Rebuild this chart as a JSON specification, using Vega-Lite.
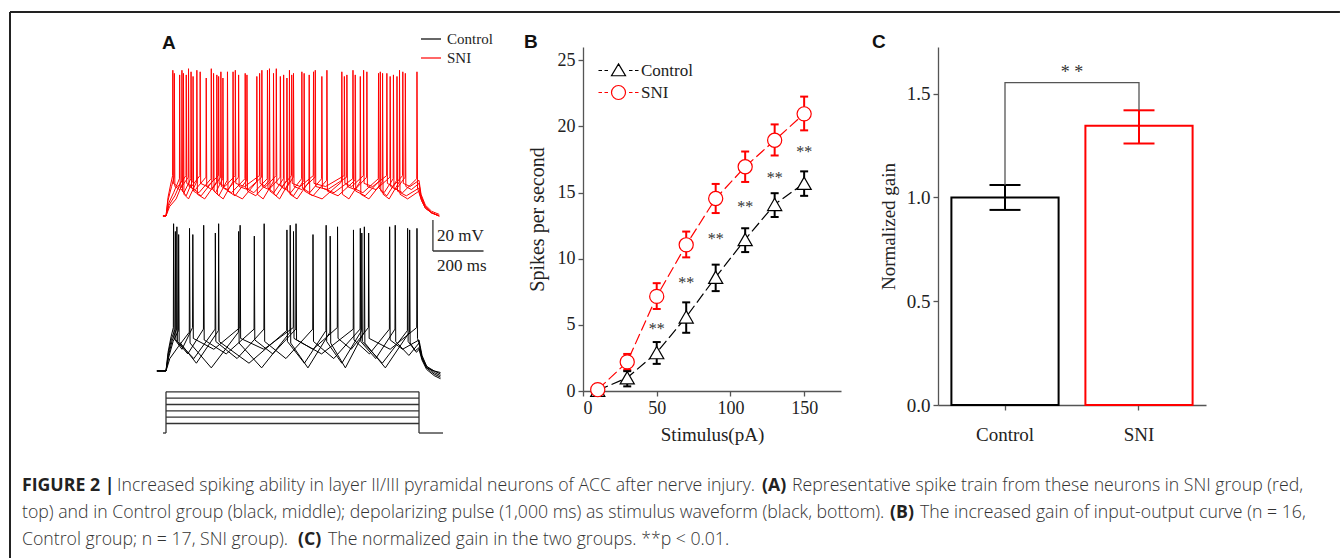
{
"$schema": "https://vega.github.io/schema/vega-lite/v6.json",
"padding": {"left": 9, "top": 10, "right": 0, "bottom": 0},
"background": "white",
"config": {
 "view": {"stroke": null},
 "font": "Liberation Serif",
 "axis": {"grid": false, "domainColor": "#555", "domainWidth": 1.3, "tickColor": "#555", "tickWidth": 1.3, "tickSize": 5, "labelFont": "Liberation Serif", "labelFontSize": 18, "labelColor": "#222", "labelPadding": 3, "titleFont": "Liberation Serif", "titleFontSize": 19, "titleFontWeight": "normal", "titleColor": "#222"},
 "title": {"font": "Liberation Sans", "fontSize": 19, "fontWeight": "bold", "anchor": "start", "frame": "group", "color": "#111", "offset": 2},
 "text": {"font": "Liberation Serif"}
},
"datasets": {
 "frame": [
  {"t0": -616.6, "t1": -616.6, "v0": 61.6, "v1": -290.7},
  {"t0": -616.6, "t1": 4640, "v0": 61.6, "v1": 61.6}
 ],
 "stim": [
  {"t0": -12, "t1": 0, "i0": 0, "i1": 0},
  {"t0": 1000, "t1": 1095, "i0": 0, "i1": 0},
  {"t0": 0, "t1": 0, "i0": 0, "i1": 130},
  {"t0": 1000, "t1": 1000, "i0": 0, "i1": 130},
  {"t0": 0, "t1": 1000, "i0": 30, "i1": 30},
  {"t0": 0, "t1": 1000, "i0": 50, "i1": 50},
  {"t0": 0, "t1": 1000, "i0": 70, "i1": 70},
  {"t0": 0, "t1": 1000, "i0": 90, "i1": 90},
  {"t0": 0, "t1": 1000, "i0": 110, "i1": 110},
  {"t0": 0, "t1": 1000, "i0": 130, "i1": 130}
 ],
 "sbar": [
  {"t0": 1055, "t1": 1055, "v0": 7.4, "v1": 27.4},
  {"t0": 1055, "t1": 1255, "v0": 7.4, "v1": 7.4}
 ],
 "slab": [
  {"t": 1071, "v": 17.1, "txt": "20 mV"},
  {"t": 1071, "v": -2.3, "txt": "200 ms"}
 ],
 "red": [
  {"s":"r1","t":-12,"v":-70},{"s":"r1","t":0,"v":-70},{"s":"r1","t":8,"v":-58},{"s":"r1","t":18,"v":-50},
  {"s":"r1","t":26,"v":-44},{"s":"r1","t":27,"v":24},{"s":"r1","t":29,"v":-49},{"s":"r1","t":47,"v":-51},
  {"s":"r1","t":79,"v":-44},{"s":"r1","t":80,"v":21},{"s":"r1","t":82,"v":-49},{"s":"r1","t":101,"v":-51},
  {"s":"r1","t":134,"v":-44},{"s":"r1","t":135,"v":23},{"s":"r1","t":137,"v":-49},{"s":"r1","t":163,"v":-51},
  {"s":"r1","t":207,"v":-44},{"s":"r1","t":208,"v":20},{"s":"r1","t":210,"v":-49},{"s":"r1","t":233,"v":-51},
  {"s":"r1","t":273,"v":-44},{"s":"r1","t":274,"v":24},{"s":"r1","t":276,"v":-49},{"s":"r1","t":311,"v":-51},
  {"s":"r1","t":369,"v":-44},{"s":"r1","t":370,"v":22},{"s":"r1","t":372,"v":-49},{"s":"r1","t":395,"v":-51},
  {"s":"r1","t":435,"v":-44},{"s":"r1","t":436,"v":25},{"s":"r1","t":438,"v":-49},{"s":"r1","t":459,"v":-51},
  {"s":"r1","t":496,"v":-44},{"s":"r1","t":497,"v":21},{"s":"r1","t":499,"v":-49},{"s":"r1","t":530,"v":-51},
  {"s":"r1","t":582,"v":-44},{"s":"r1","t":583,"v":23},{"s":"r1","t":585,"v":-49},{"s":"r1","t":631,"v":-51},
  {"s":"r1","t":704,"v":-44},{"s":"r1","t":705,"v":20},{"s":"r1","t":707,"v":-49},{"s":"r1","t":734,"v":-51},
  {"s":"r1","t":780,"v":-44},{"s":"r1","t":781,"v":24},{"s":"r1","t":783,"v":-49},{"s":"r1","t":817,"v":-51},
  {"s":"r1","t":872,"v":-44},{"s":"r1","t":873,"v":22},{"s":"r1","t":875,"v":-49},{"s":"r1","t":897,"v":-51},
  {"s":"r1","t":935,"v":-44},{"s":"r1","t":936,"v":23},{"s":"r1","t":938,"v":-49},{"s":"r1","t":965,"v":-51},
  {"s":"r1","t":1000,"v":-47},{"s":"r1","t":1008,"v":-56},{"s":"r1","t":1025,"v":-63},{"s":"r1","t":1050,"v":-67},{"s":"r1","t":1080,"v":-69},

  {"s":"r2","t":-12,"v":-70},{"s":"r2","t":0,"v":-70},{"s":"r2","t":8,"v":-60},{"s":"r2","t":22,"v":-51},
  {"s":"r2","t":32,"v":-45},{"s":"r2","t":33,"v":22},{"s":"r2","t":35,"v":-51},{"s":"r2","t":54,"v":-53},
  {"s":"r2","t":88,"v":-45},{"s":"r2","t":89,"v":25},{"s":"r2","t":91,"v":-51},{"s":"r2","t":116,"v":-53},
  {"s":"r2","t":158,"v":-45},{"s":"r2","t":159,"v":19},{"s":"r2","t":161,"v":-51},{"s":"r2","t":181,"v":-53},
  {"s":"r2","t":216,"v":-45},{"s":"r2","t":217,"v":23},{"s":"r2","t":219,"v":-51},{"s":"r2","t":244,"v":-53},
  {"s":"r2","t":286,"v":-45},{"s":"r2","t":287,"v":21},{"s":"r2","t":289,"v":-51},{"s":"r2","t":323,"v":-53},
  {"s":"r2","t":378,"v":-45},{"s":"r2","t":379,"v":24},{"s":"r2","t":381,"v":-51},{"s":"r2","t":407,"v":-53},
  {"s":"r2","t":451,"v":-45},{"s":"r2","t":452,"v":20},{"s":"r2","t":454,"v":-51},{"s":"r2","t":472,"v":-53},
  {"s":"r2","t":503,"v":-45},{"s":"r2","t":504,"v":22},{"s":"r2","t":506,"v":-51},{"s":"r2","t":537,"v":-53},
  {"s":"r2","t":589,"v":-45},{"s":"r2","t":590,"v":24},{"s":"r2","t":592,"v":-51},{"s":"r2","t":639,"v":-53},
  {"s":"r2","t":714,"v":-45},{"s":"r2","t":715,"v":21},{"s":"r2","t":717,"v":-51},{"s":"r2","t":747,"v":-53},
  {"s":"r2","t":793,"v":-45},{"s":"r2","t":794,"v":23},{"s":"r2","t":796,"v":-51},{"s":"r2","t":830,"v":-53},
  {"s":"r2","t":885,"v":-45},{"s":"r2","t":886,"v":20},{"s":"r2","t":888,"v":-51},{"s":"r2","t":909,"v":-53},
  {"s":"r2","t":945,"v":-45},{"s":"r2","t":946,"v":22},{"s":"r2","t":948,"v":-51},{"s":"r2","t":970,"v":-53},
  {"s":"r2","t":1000,"v":-49},{"s":"r2","t":1008,"v":-57},{"s":"r2","t":1025,"v":-64},{"s":"r2","t":1050,"v":-68},{"s":"r2","t":1080,"v":-70},

  {"s":"r3","t":-12,"v":-70},{"s":"r3","t":0,"v":-70},{"s":"r3","t":10,"v":-62},{"s":"r3","t":30,"v":-55},
  {"s":"r3","t":53,"v":-46},{"s":"r3","t":54,"v":21},{"s":"r3","t":56,"v":-52},{"s":"r3","t":71,"v":-55},
  {"s":"r3","t":98,"v":-46},{"s":"r3","t":99,"v":23},{"s":"r3","t":101,"v":-52},{"s":"r3","t":130,"v":-55},
  {"s":"r3","t":178,"v":-46},{"s":"r3","t":179,"v":25},{"s":"r3","t":181,"v":-52},{"s":"r3","t":196,"v":-55},
  {"s":"r3","t":224,"v":-46},{"s":"r3","t":225,"v":19},{"s":"r3","t":227,"v":-52},{"s":"r3","t":259,"v":-55},
  {"s":"r3","t":312,"v":-46},{"s":"r3","t":313,"v":22},{"s":"r3","t":315,"v":-52},{"s":"r3","t":347,"v":-55},
  {"s":"r3","t":400,"v":-46},{"s":"r3","t":401,"v":24},{"s":"r3","t":403,"v":-52},{"s":"r3","t":426,"v":-55},
  {"s":"r3","t":464,"v":-46},{"s":"r3","t":465,"v":21},{"s":"r3","t":467,"v":-52},{"s":"r3","t":493,"v":-55},
  {"s":"r3","t":536,"v":-46},{"s":"r3","t":537,"v":23},{"s":"r3","t":539,"v":-52},{"s":"r3","t":568,"v":-55},
  {"s":"r3","t":615,"v":-46},{"s":"r3","t":616,"v":20},{"s":"r3","t":618,"v":-52},{"s":"r3","t":664,"v":-55},
  {"s":"r3","t":738,"v":-46},{"s":"r3","t":739,"v":24},{"s":"r3","t":741,"v":-52},{"s":"r3","t":778,"v":-55},
  {"s":"r3","t":839,"v":-46},{"s":"r3","t":840,"v":22},{"s":"r3","t":842,"v":-52},{"s":"r3","t":862,"v":-55},
  {"s":"r3","t":898,"v":-46},{"s":"r3","t":899,"v":21},{"s":"r3","t":901,"v":-52},{"s":"r3","t":935,"v":-55},
  {"s":"r3","t":991,"v":-46},{"s":"r3","t":992,"v":23},{"s":"r3","t":994,"v":-52},
  {"s":"r3","t":1000,"v":-55},{"s":"r3","t":1010,"v":-60},{"s":"r3","t":1025,"v":-65},{"s":"r3","t":1050,"v":-68},{"s":"r3","t":1080,"v":-70},

  {"s":"r4","t":-12,"v":-70},{"s":"r4","t":0,"v":-70},{"s":"r4","t":12,"v":-63},{"s":"r4","t":35,"v":-57},
  {"s":"r4","t":62,"v":-47},{"s":"r4","t":63,"v":24},{"s":"r4","t":65,"v":-54},{"s":"r4","t":80,"v":-57},
  {"s":"r4","t":106,"v":-47},{"s":"r4","t":107,"v":20},{"s":"r4","t":109,"v":-54},{"s":"r4","t":139,"v":-57},
  {"s":"r4","t":187,"v":-47},{"s":"r4","t":188,"v":22},{"s":"r4","t":190,"v":-54},{"s":"r4","t":209,"v":-57},
  {"s":"r4","t":242,"v":-47},{"s":"r4","t":243,"v":23},{"s":"r4","t":245,"v":-54},{"s":"r4","t":273,"v":-57},
  {"s":"r4","t":319,"v":-47},{"s":"r4","t":320,"v":21},{"s":"r4","t":322,"v":-54},{"s":"r4","t":355,"v":-57},
  {"s":"r4","t":408,"v":-47},{"s":"r4","t":409,"v":25},{"s":"r4","t":411,"v":-54},{"s":"r4","t":436,"v":-57},
  {"s":"r4","t":477,"v":-47},{"s":"r4","t":478,"v":19},{"s":"r4","t":480,"v":-54},{"s":"r4","t":504,"v":-57},
  {"s":"r4","t":545,"v":-47},{"s":"r4","t":546,"v":22},{"s":"r4","t":548,"v":-54},{"s":"r4","t":581,"v":-57},
  {"s":"r4","t":635,"v":-47},{"s":"r4","t":636,"v":24},{"s":"r4","t":638,"v":-54},{"s":"r4","t":680,"v":-57},
  {"s":"r4","t":747,"v":-47},{"s":"r4","t":748,"v":21},{"s":"r4","t":750,"v":-54},{"s":"r4","t":787,"v":-57},
  {"s":"r4","t":846,"v":-47},{"s":"r4","t":847,"v":23},{"s":"r4","t":849,"v":-54},{"s":"r4","t":873,"v":-57},
  {"s":"r4","t":912,"v":-47},{"s":"r4","t":913,"v":20},{"s":"r4","t":915,"v":-54},{"s":"r4","t":950,"v":-57},
  {"s":"r4","t":1000,"v":-52},{"s":"r4","t":1010,"v":-59},{"s":"r4","t":1025,"v":-64},{"s":"r4","t":1050,"v":-68},{"s":"r4","t":1080,"v":-70},

  {"s":"r5","t":-12,"v":-70},{"s":"r5","t":0,"v":-70},{"s":"r5","t":14,"v":-64},{"s":"r5","t":40,"v":-59},
  {"s":"r5","t":68,"v":-48},{"s":"r5","t":69,"v":22},{"s":"r5","t":71,"v":-56},{"s":"r5","t":89,"v":-59},
  {"s":"r5","t":121,"v":-48},{"s":"r5","t":122,"v":24},{"s":"r5","t":124,"v":-56},{"s":"r5","t":153,"v":-59},
  {"s":"r5","t":200,"v":-48},{"s":"r5","t":201,"v":21},{"s":"r5","t":203,"v":-56},{"s":"r5","t":226,"v":-59},
  {"s":"r5","t":264,"v":-48},{"s":"r5","t":265,"v":23},{"s":"r5","t":267,"v":-56},{"s":"r5","t":302,"v":-59},
  {"s":"r5","t":358,"v":-48},{"s":"r5","t":359,"v":20},{"s":"r5","t":361,"v":-56},{"s":"r5","t":384,"v":-59},
  {"s":"r5","t":424,"v":-48},{"s":"r5","t":425,"v":22},{"s":"r5","t":427,"v":-56},{"s":"r5","t":449,"v":-59},
  {"s":"r5","t":487,"v":-48},{"s":"r5","t":488,"v":24},{"s":"r5","t":490,"v":-56},{"s":"r5","t":518,"v":-59},
  {"s":"r5","t":565,"v":-48},{"s":"r5","t":566,"v":21},{"s":"r5","t":568,"v":-56},{"s":"r5","t":617,"v":-59},
  {"s":"r5","t":694,"v":-48},{"s":"r5","t":695,"v":23},{"s":"r5","t":697,"v":-56},{"s":"r5","t":723,"v":-59},
  {"s":"r5","t":767,"v":-48},{"s":"r5","t":768,"v":20},{"s":"r5","t":770,"v":-56},{"s":"r5","t":802,"v":-59},
  {"s":"r5","t":855,"v":-48},{"s":"r5","t":856,"v":22},{"s":"r5","t":858,"v":-56},{"s":"r5","t":882,"v":-59},
  {"s":"r5","t":922,"v":-48},{"s":"r5","t":923,"v":24},{"s":"r5","t":925,"v":-56},{"s":"r5","t":955,"v":-59},
  {"s":"r5","t":1000,"v":-54},{"s":"r5","t":1010,"v":-60},{"s":"r5","t":1025,"v":-65},{"s":"r5","t":1050,"v":-68},{"s":"r5","t":1080,"v":-70}
 ],
 "black": [
  {"s":"k1","t":-36,"v":-70},{"s":"k1","t":0,"v":-70},{"s":"k1","t":8,"v":-58},{"s":"k1","t":20,"v":-48},
  {"s":"k1","t":29,"v":-42},{"s":"k1","t":30,"v":25},{"s":"k1","t":32,"v":-49},{"s":"k1","t":63,"v":-56},
  {"s":"k1","t":105,"v":-42},{"s":"k1","t":106,"v":18},{"s":"k1","t":108,"v":-49},{"s":"k1","t":189,"v":-56},
  {"s":"k1","t":292,"v":-42},{"s":"k1","t":293,"v":24},{"s":"k1","t":295,"v":-49},{"s":"k1","t":387,"v":-56},
  {"s":"k1","t":503,"v":-42},{"s":"k1","t":504,"v":20},{"s":"k1","t":506,"v":-49},{"s":"k1","t":581,"v":-56},
  {"s":"k1","t":677,"v":-42},{"s":"k1","t":678,"v":23},{"s":"k1","t":680,"v":-49},{"s":"k1","t":732,"v":-56},
  {"s":"k1","t":800,"v":-42},{"s":"k1","t":801,"v":19},{"s":"k1","t":803,"v":-49},{"s":"k1","t":886,"v":-56},
  {"s":"k1","t":991,"v":-42},{"s":"k1","t":992,"v":22},{"s":"k1","t":994,"v":-49},
  {"s":"k1","t":1000,"v":-52},{"s":"k1","t":1012,"v":-62},{"s":"k1","t":1030,"v":-68},{"s":"k1","t":1060,"v":-70},{"s":"k1","t":1085,"v":-71},

  {"s":"k2","t":-36,"v":-70},{"s":"k2","t":0,"v":-70},{"s":"k2","t":9,"v":-59},{"s":"k2","t":22,"v":-49},
  {"s":"k2","t":36,"v":-43},{"s":"k2","t":37,"v":20},{"s":"k2","t":39,"v":-50},{"s":"k2","t":86,"v":-59},
  {"s":"k2","t":148,"v":-43},{"s":"k2","t":149,"v":24},{"s":"k2","t":151,"v":-50},{"s":"k2","t":238,"v":-59},
  {"s":"k2","t":348,"v":-43},{"s":"k2","t":349,"v":17},{"s":"k2","t":351,"v":-50},{"s":"k2","t":422,"v":-59},
  {"s":"k2","t":513,"v":-43},{"s":"k2","t":514,"v":25},{"s":"k2","t":516,"v":-50},{"s":"k2","t":615,"v":-59},
  {"s":"k2","t":740,"v":-43},{"s":"k2","t":741,"v":21},{"s":"k2","t":743,"v":-50},{"s":"k2","t":804,"v":-59},
  {"s":"k2","t":883,"v":-43},{"s":"k2","t":884,"v":23},{"s":"k2","t":886,"v":-50},{"s":"k2","t":935,"v":-56},
  {"s":"k2","t":1000,"v":-50},{"s":"k2","t":1012,"v":-60},{"s":"k2","t":1030,"v":-67},{"s":"k2","t":1060,"v":-70},{"s":"k2","t":1085,"v":-72},

  {"s":"k3","t":-36,"v":-70},{"s":"k3","t":0,"v":-70},{"s":"k3","t":10,"v":-60},{"s":"k3","t":25,"v":-50},
  {"s":"k3","t":42,"v":-43},{"s":"k3","t":43,"v":23},{"s":"k3","t":45,"v":-51},{"s":"k3","t":110,"v":-62},
  {"s":"k3","t":194,"v":-43},{"s":"k3","t":195,"v":19},{"s":"k3","t":197,"v":-51},{"s":"k3","t":281,"v":-62},
  {"s":"k3","t":387,"v":-43},{"s":"k3","t":388,"v":25},{"s":"k3","t":390,"v":-51},{"s":"k3","t":474,"v":-62},
  {"s":"k3","t":580,"v":-43},{"s":"k3","t":581,"v":18},{"s":"k3","t":583,"v":-51},{"s":"k3","t":663,"v":-62},
  {"s":"k3","t":767,"v":-43},{"s":"k3","t":768,"v":22},{"s":"k3","t":770,"v":-51},{"s":"k3","t":829,"v":-62},
  {"s":"k3","t":905,"v":-43},{"s":"k3","t":906,"v":24},{"s":"k3","t":908,"v":-51},{"s":"k3","t":960,"v":-60},
  {"s":"k3","t":1000,"v":-52},{"s":"k3","t":1012,"v":-61},{"s":"k3","t":1030,"v":-67},{"s":"k3","t":1060,"v":-71},{"s":"k3","t":1085,"v":-73},

  {"s":"k4","t":-36,"v":-70},{"s":"k4","t":0,"v":-70},{"s":"k4","t":11,"v":-61},{"s":"k4","t":28,"v":-51},
  {"s":"k4","t":49,"v":-44},{"s":"k4","t":50,"v":18},{"s":"k4","t":52,"v":-51},{"s":"k4","t":120,"v":-65},
  {"s":"k4","t":207,"v":-44},{"s":"k4","t":208,"v":25},{"s":"k4","t":210,"v":-51},{"s":"k4","t":328,"v":-65},
  {"s":"k4","t":477,"v":-44},{"s":"k4","t":478,"v":21},{"s":"k4","t":480,"v":-51},{"s":"k4","t":547,"v":-65},
  {"s":"k4","t":632,"v":-44},{"s":"k4","t":633,"v":24},{"s":"k4","t":635,"v":-51},{"s":"k4","t":695,"v":-65},
  {"s":"k4","t":773,"v":-44},{"s":"k4","t":774,"v":19},{"s":"k4","t":776,"v":-51},{"s":"k4","t":855,"v":-65},
  {"s":"k4","t":954,"v":-44},{"s":"k4","t":955,"v":22},{"s":"k4","t":957,"v":-51},{"s":"k4","t":985,"v":-57},
  {"s":"k4","t":1000,"v":-55},{"s":"k4","t":1012,"v":-62},{"s":"k4","t":1030,"v":-68},{"s":"k4","t":1060,"v":-72},{"s":"k4","t":1085,"v":-74},

  {"s":"k5","t":-36,"v":-70},{"s":"k5","t":0,"v":-70},{"s":"k5","t":15,"v":-62},{"s":"k5","t":50,"v":-54},
  {"s":"k5","t":92,"v":-45},{"s":"k5","t":93,"v":22},{"s":"k5","t":95,"v":-52},{"s":"k5","t":179,"v":-68},
  {"s":"k5","t":286,"v":-45},{"s":"k5","t":287,"v":20},{"s":"k5","t":289,"v":-52},{"s":"k5","t":378,"v":-68},
  {"s":"k5","t":490,"v":-45},{"s":"k5","t":491,"v":24},{"s":"k5","t":493,"v":-52},{"s":"k5","t":561,"v":-68},
  {"s":"k5","t":648,"v":-45},{"s":"k5","t":649,"v":17},{"s":"k5","t":651,"v":-52},{"s":"k5","t":709,"v":-68},
  {"s":"k5","t":783,"v":-45},{"s":"k5","t":784,"v":23},{"s":"k5","t":786,"v":-52},{"s":"k5","t":867,"v":-68},
  {"s":"k5","t":962,"v":-45},{"s":"k5","t":963,"v":21},{"s":"k5","t":965,"v":-52},{"s":"k5","t":990,"v":-58},
  {"s":"k5","t":1000,"v":-56},{"s":"k5","t":1012,"v":-63},{"s":"k5","t":1030,"v":-69},{"s":"k5","t":1060,"v":-73},{"s":"k5","t":1085,"v":-75}
 ],
 "io": [
  {"g":"Control","x":10,"y":0.05,"lo":0,"hi":0.1},
  {"g":"Control","x":30,"y":1.0,"lo":0.35,"hi":1.5},
  {"g":"Control","x":50,"y":2.9,"lo":2.05,"hi":3.7},
  {"g":"Control","x":70,"y":5.6,"lo":4.4,"hi":6.7},
  {"g":"Control","x":90,"y":8.6,"lo":7.55,"hi":9.55},
  {"g":"Control","x":110,"y":11.45,"lo":10.5,"hi":12.3},
  {"g":"Control","x":130,"y":14.1,"lo":13.15,"hi":14.95},
  {"g":"Control","x":150,"y":15.7,"lo":14.75,"hi":16.6},
  {"g":"SNI","x":10,"y":0.1,"lo":0,"hi":0.45},
  {"g":"SNI","x":30,"y":2.2,"lo":1.6,"hi":2.8},
  {"g":"SNI","x":50,"y":7.15,"lo":6.2,"hi":8.15},
  {"g":"SNI","x":70,"y":11.05,"lo":10.1,"hi":12.05},
  {"g":"SNI","x":90,"y":14.55,"lo":13.45,"hi":15.65},
  {"g":"SNI","x":110,"y":16.95,"lo":15.8,"hi":18.1},
  {"g":"SNI","x":130,"y":18.95,"lo":17.8,"hi":20.15},
  {"g":"SNI","x":150,"y":20.95,"lo":19.7,"hi":22.25}
 ],
 "stars": [
  {"x":50,"y":4.96},{"x":70,"y":8.44},{"x":90,"y":11.8},{"x":110,"y":14.2},{"x":130,"y":16.4},{"x":150,"y":18.4}
 ],
 "gain": [
  {"g":"Control","m":1.0,"lo":0.94,"hi":1.06},
  {"g":"SNI","m":1.345,"lo":1.26,"hi":1.42}
 ],
 "bracket": [
  {"g":"Control","b":1.06,"o":1},
  {"g":"Control","b":1.553,"o":2},
  {"g":"SNI","b":1.553,"o":3},
  {"g":"SNI","b":1.42,"o":4}
 ]
},
"vconcat": [
 {
  "hconcat": [
   {
    "width": 476, "height": 390,
    "title": {"text": "A", "dx": 152, "dy": 44},
    "resolve": {"scale": {"y": "independent"}},
    "layer": [
     {"data": {"name": "frame"}, "mark": {"type": "rule", "color": "#222", "strokeWidth": 2},
      "encoding": {"x": {"field": "t0", "type": "quantitative", "scale": {"domain": [-616.6, 1264.8], "nice": false}, "axis": null}, "x2": {"field": "t1"},
       "y": {"field": "v0", "type": "quantitative", "scale": {"domain": [-212.6, 39], "nice": false, "zero": false}, "axis": null}, "y2": {"field": "v1"}}},
     {"data": {"name": "stim"}, "mark": {"type": "rule", "color": "#333", "strokeWidth": 1.3},
      "encoding": {"x": {"field": "t0", "type": "quantitative", "scale": {"domain": [-616.6, 1264.8], "nice": false}, "axis": null}, "x2": {"field": "t1"},
       "y": {"field": "i0", "type": "quantitative", "scale": {"domain": [-12.6, 1217.7], "nice": false, "zero": false}, "axis": null}, "y2": {"field": "i1"}}},
     {"data": {"name": "red"}, "mark": {"type": "line", "strokeWidth": 1, "strokeJoin": "round"},
      "encoding": {"x": {"field": "t", "type": "quantitative", "scale": {"domain": [-616.6, 1264.8], "nice": false}, "axis": null},
       "y": {"field": "v", "type": "quantitative", "scale": {"domain": [-212.6, 39], "nice": false, "zero": false}, "axis": null},
       "detail": {"field": "s"},
       "color": {"datum": "SNI", "type": "nominal", "scale": {"domain": ["Control", "SNI"], "range": ["#000000", "#ff0000"]},
        "legend": {"title": null, "orient": "none", "legendX": 410, "legendY": -19, "symbolType": "stroke", "symbolSize": 400, "symbolStrokeWidth": 1.2, "labelFont": "Liberation Serif", "labelFontSize": 15, "labelColor": "#222", "labelOffset": 5, "rowPadding": -2, "padding": 0}}}},
     {"data": {"name": "black"}, "mark": {"type": "line", "strokeWidth": 1, "strokeJoin": "round"},
      "encoding": {"x": {"field": "t", "type": "quantitative", "scale": {"domain": [-616.6, 1264.8], "nice": false}, "axis": null},
       "y": {"field": "v", "type": "quantitative", "scale": {"domain": [-112.6, 139], "nice": false, "zero": false}, "axis": null},
       "detail": {"field": "s"},
       "color": {"datum": "Control", "type": "nominal"}}},
     {"data": {"name": "sbar"}, "mark": {"type": "rule", "color": "#333", "strokeWidth": 1.3},
      "encoding": {"x": {"field": "t0", "type": "quantitative", "scale": {"domain": [-616.6, 1264.8], "nice": false}, "axis": null}, "x2": {"field": "t1"},
       "y": {"field": "v0", "type": "quantitative", "scale": {"domain": [-112.6, 139], "nice": false, "zero": false}, "axis": null}, "y2": {"field": "v1"}}},
     {"data": {"name": "slab"}, "mark": {"type": "text", "align": "left", "baseline": "middle", "font": "Liberation Serif", "fontSize": 17, "color": "#222"},
      "encoding": {"x": {"field": "t", "type": "quantitative", "scale": {"domain": [-616.6, 1264.8], "nice": false}, "axis": null},
       "y": {"field": "v", "type": "quantitative", "scale": {"domain": [-112.6, 139], "nice": false, "zero": false}, "axis": null},
       "text": {"field": "txt"}}}
    ]
   },
   {
    "width": 258, "height": 344,
    "title": {"text": "B", "dx": -59, "dy": 7},
    "resolve": {"scale": {"color": "independent", "shape": "independent"}},
    "layer": [
     {"data": {"name": "io"}, "mark": {"type": "line", "strokeDash": [11, 4], "strokeWidth": 1.2},
      "encoding": {
       "x": {"field": "x", "type": "quantitative", "scale": {"domain": [0, 175], "nice": false}, "axis": {"values": [0, 50, 100, 150], "title": "Stimulus(pA)", "titlePadding": 8}},
       "y": {"field": "y", "type": "quantitative", "scale": {"domain": [0, 26], "nice": false}, "axis": {"values": [0, 5, 10, 15, 20, 25], "title": "Spikes per second", "titlePadding": 10, "titleFontSize": 20}},
       "color": {"field": "g", "type": "nominal", "scale": {"domain": ["Control", "SNI"], "range": ["#000000", "#ff0000"]}, "legend": null}}},
     {"data": {"name": "io"}, "mark": {"type": "rule", "strokeWidth": 2},
      "encoding": {"x": {"field": "x", "type": "quantitative"}, "y": {"field": "lo", "type": "quantitative"}, "y2": {"field": "hi"},
       "color": {"field": "g", "type": "nominal", "scale": {"domain": ["Control", "SNI"], "range": ["#000000", "#ff0000"]}, "legend": null}}},
     {"data": {"name": "io"}, "mark": {"type": "tick", "orient": "horizontal", "size": 8, "thickness": 2, "opacity": 1},
      "encoding": {"x": {"field": "x", "type": "quantitative"}, "y": {"field": "lo", "type": "quantitative"},
       "color": {"field": "g", "type": "nominal", "scale": {"domain": ["Control", "SNI"], "range": ["#000000", "#ff0000"]}, "legend": null}}},
     {"data": {"name": "io"}, "mark": {"type": "tick", "orient": "horizontal", "size": 8, "thickness": 2, "opacity": 1},
      "encoding": {"x": {"field": "x", "type": "quantitative"}, "y": {"field": "hi", "type": "quantitative"},
       "color": {"field": "g", "type": "nominal", "scale": {"domain": ["Control", "SNI"], "range": ["#000000", "#ff0000"]}, "legend": null}}},
     {"data": {"name": "io"}, "mark": {"type": "point", "filled": false, "fill": "white", "size": 200, "strokeWidth": 1.2, "opacity": 1},
      "encoding": {"x": {"field": "x", "type": "quantitative"}, "y": {"field": "y", "type": "quantitative"},
       "color": {"field": "g", "type": "nominal", "scale": {"domain": ["Control", "SNI"], "range": ["#000000", "#ff0000"]}, "legend": null},
       "shape": {"field": "g", "type": "nominal", "scale": {"domain": ["Control", "SNI"], "range": ["triangle-up", "circle"]}, "legend": null}}},
     {"data": {"name": "stars"}, "mark": {"type": "text", "text": "**", "font": "Liberation Serif", "fontSize": 16, "color": "#333333", "baseline": "middle", "dy": 4},
      "encoding": {"x": {"field": "x", "type": "quantitative"}, "y": {"field": "y", "type": "quantitative"}}},
     {"data": {"name": "io"}, "mark": {"type": "point", "filled": false, "opacity": 0, "size": 196, "strokeWidth": 1.2},
      "encoding": {"x": {"field": "x", "type": "quantitative"}, "y": {"field": "y", "type": "quantitative"},
       "color": {"field": "g", "type": "nominal", "scale": {"domain": ["Control", "SNI"], "range": ["#000000", "#ff0000"]},
        "legend": {"title": null, "orient": "none", "legendX": 27, "legendY": 15, "symbolSize": 196, "symbolStrokeWidth": 1.2, "symbolOpacity": 1, "labelFont": "Liberation Serif", "labelFontSize": 17, "labelColor": "#222", "labelOffset": 14, "rowPadding": 4, "padding": 0}},
       "shape": {"field": "g", "type": "nominal", "scale": {"domain": ["Control", "SNI"], "range": ["M-2.86,0L-2.36,0M-2,0L-1.5,0M1.5,0L2,0M2.36,0L2.86,0M0,-0.95L1,0.75L-1,0.75Z", "M-2.86,0L-2.36,0M-2,0L-1.5,0M1.5,0L2,0M2.36,0L2.86,0M1,0A1,1,0,1,1,-1,0A1,1,0,1,1,1,0Z"]},
        "legend": {"title": null, "orient": "none", "legendX": 27, "legendY": 15, "symbolSize": 196, "symbolStrokeWidth": 1.2, "symbolOpacity": 1, "labelFont": "Liberation Serif", "labelFontSize": 17, "labelColor": "#222", "labelOffset": 14, "rowPadding": 4, "padding": 0}}}}
    ]
   },
   {
    "width": 268, "height": 358,
    "title": {"text": "C", "dx": -66, "dy": 7},
    "encoding": {"x": {"field": "g", "type": "nominal", "scale": {"domain": ["Control", "SNI"], "paddingInner": 0.2, "paddingOuter": 0.1}, "axis": {"title": null, "labelAngle": 0, "labelPadding": 15, "labelFontSize": 19}}},
    "layer": [
     {"data": {"name": "gain"}, "mark": {"type": "bar", "fill": "white", "strokeWidth": 2},
      "encoding": {"y": {"field": "m", "type": "quantitative", "scale": {"domain": [0, 1.725], "nice": false}, "axis": {"title": "Normalized gain", "values": [0, 0.5, 1, 1.5], "format": ".1f", "titlePadding": 8, "labelFontSize": 19, "titleFontSize": 19}},
       "stroke": {"field": "g", "type": "nominal", "scale": {"domain": ["Control", "SNI"], "range": ["#000000", "#ff0000"]}, "legend": null}}},
     {"data": {"name": "gain"}, "mark": {"type": "rule", "strokeWidth": 2},
      "encoding": {"y": {"field": "lo", "type": "quantitative"}, "y2": {"field": "hi"}, "color": {"field": "g", "type": "nominal", "scale": {"domain": ["Control", "SNI"], "range": ["#000000", "#ff0000"]}, "legend": null}}},
     {"data": {"name": "gain"}, "mark": {"type": "tick", "orient": "horizontal", "size": 31, "thickness": 2, "opacity": 1},
      "encoding": {"y": {"field": "lo", "type": "quantitative"}, "color": {"field": "g", "type": "nominal", "legend": null}}},
     {"data": {"name": "gain"}, "mark": {"type": "tick", "orient": "horizontal", "size": 31, "thickness": 2, "opacity": 1},
      "encoding": {"y": {"field": "hi", "type": "quantitative"}, "color": {"field": "g", "type": "nominal", "legend": null}}},
     {"data": {"name": "bracket"}, "mark": {"type": "line", "color": "#555", "strokeWidth": 1.3},
      "encoding": {"y": {"field": "b", "type": "quantitative"}, "order": {"field": "o", "type": "quantitative"}}},
     {"data": {"values": [{"g": "Control", "b": 1.62}]}, "mark": {"type": "text", "text": "* *", "dx": 67, "font": "Liberation Serif", "fontSize": 18, "color": "#333333", "baseline": "middle", "dy": 4},
      "encoding": {"y": {"field": "b", "type": "quantitative"}}}
    ]
   }
  ],
  "spacing": 97,
  "bounds": "flush",
  "resolve": {"scale": {"color": "independent", "shape": "independent", "stroke": "independent"}, "legend": {"color": "independent"}}
 },
 {
  "width": 1320, "height": 81,
  "encoding": {
   "x": {"datum": 0, "type": "quantitative", "scale": {"domain": [0, 1]}, "axis": null},
   "y": {"field": "line", "type": "ordinal", "scale": {"domain": [1, 2, 3]}, "axis": null},
   "text": {"field": "txt"}
  },
  "layer": [
   {"data": {"values": [{"line": 1, "txt": "FIGURE 2 |"}]}, "mark": {"type": "text", "align": "left", "baseline": "middle", "dx": 12, "font": "Open Sans", "fontSize": 17.7, "fontWeight": "bold", "color": "#222"}},
   {"data": {"values": [{"line": 1, "txt": "Increased spiking ability in layer II/III pyramidal neurons of ACC after nerve injury."}]}, "mark": {"type": "text", "align": "left", "baseline": "middle", "dx": 107, "font": "Open Sans", "fontSize": 17.7, "fontWeight": 300, "color": "#333"}},
   {"data": {"values": [{"line": 1, "txt": "(A)"}]}, "mark": {"type": "text", "align": "left", "baseline": "middle", "dx": 752, "font": "Open Sans", "fontSize": 17.7, "fontWeight": "bold", "color": "#222"}},
   {"data": {"values": [{"line": 1, "txt": "Representative spike train from these neurons in SNI group (red,"}]}, "mark": {"type": "text", "align": "left", "baseline": "middle", "dx": 782, "font": "Open Sans", "fontSize": 17.7, "fontWeight": 300, "color": "#333"}},
   {"data": {"values": [{"line": 2, "txt": "top) and in Control group (black, middle); depolarizing pulse (1,000 ms) as stimulus waveform (black, bottom)."}]}, "mark": {"type": "text", "align": "left", "baseline": "middle", "dx": 12, "font": "Open Sans", "fontSize": 17.7, "fontWeight": 300, "color": "#333"}},
   {"data": {"values": [{"line": 2, "txt": "(B)"}]}, "mark": {"type": "text", "align": "left", "baseline": "middle", "dx": 880, "font": "Open Sans", "fontSize": 17.7, "fontWeight": "bold", "color": "#222"}},
   {"data": {"values": [{"line": 2, "txt": "The increased gain of input-output curve (n = 16,"}]}, "mark": {"type": "text", "align": "left", "baseline": "middle", "dx": 910, "font": "Open Sans", "fontSize": 17.7, "fontWeight": 300, "color": "#333"}},
   {"data": {"values": [{"line": 3, "txt": "Control group; n = 17, SNI group)."}]}, "mark": {"type": "text", "align": "left", "baseline": "middle", "dx": 12, "font": "Open Sans", "fontSize": 17.7, "fontWeight": 300, "color": "#333"}},
   {"data": {"values": [{"line": 3, "txt": "(C)"}]}, "mark": {"type": "text", "align": "left", "baseline": "middle", "dx": 288, "font": "Open Sans", "fontSize": 17.7, "fontWeight": "bold", "color": "#222"}},
   {"data": {"values": [{"line": 3, "txt": "The normalized gain in the two groups. **p < 0.01."}]}, "mark": {"type": "text", "align": "left", "baseline": "middle", "dx": 318, "font": "Open Sans", "fontSize": 17.7, "fontWeight": 300, "color": "#333"}}
  ]
 }
],
"spacing": 425.5,
"bounds": "flush",
"resolve": {"scale": {"color": "independent"}}
}
